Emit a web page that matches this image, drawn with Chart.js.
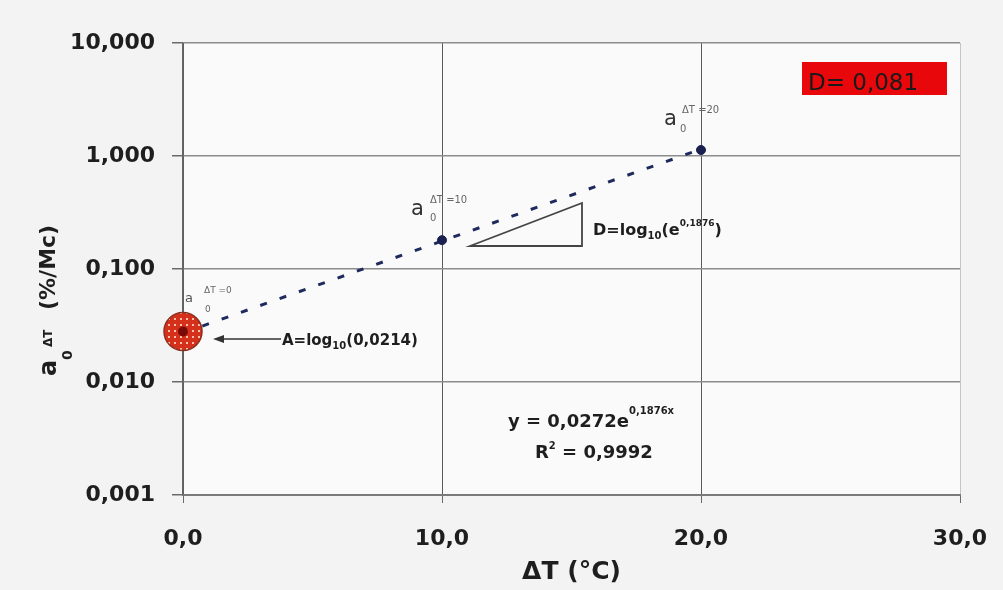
<!DOCTYPE html>
<html><head><meta charset="utf-8">
<script src="https://cdn.jsdelivr.net/npm/chart.js@4.4.1/dist/chart.umd.min.js"></script>
<style>html,body{margin:0;padding:0;background:#f3f3f3;}#wrap{width:1003px;height:590px;}</style>
</head><body><div id="wrap"><canvas id="c" width="1003" height="590"></canvas></div>
<script>
// ---- data ----
const deltaT = [0, 10, 20];
const a0Values = [0.028, 0.18, 1.13];
const trendDeltaT = [0, 20];
const trendValues = [0.0272, 1.15];
const xTickValues = [0, 10, 20, 30];
const yTickValues = [0.001, 0.01, 0.1, 1, 10];
const xTitle = 'ΔT (°C)';
const yTitleUnit = '(%/Mc)';
const pointLabels = ['ΔT =0', 'ΔT =10', 'ΔT =20'];
const equationMain = 'y = 0,0272e';
const equationExp = '0,1876x';
const r2Value = ' = 0,9992';
const interceptLabel = ['A=log', '10', '(0,0214)'];
const slopeLabel = ['D=log', '10', '(e', '0,1876', ')'];
const dBoxText = 'D= 0,081';

const FONT = '"DejaVu Sans", sans-serif';
const TXT = '#1e1e1e';

const canvas = document.getElementById('c');
const mainCtx = canvas.getContext('2d');
const pc = document.createElement('canvas'); pc.width = 6; pc.height = 6;
const pg = pc.getContext('2d');
pg.fillStyle = '#d4301c'; pg.fillRect(0, 0, 6, 6);
pg.fillStyle = '#f6c2a8'; pg.fillRect(0, 0, 2, 2);
const hatch = mainCtx.createPattern(pc, 'repeat');

function rich(ctx, x, y, parts) {
  let cx = x;
  for (const p of parts) {
    ctx.font = (p.w || 'bold') + ' ' + p.s + 'px ' + FONT;
    ctx.fillStyle = p.c || TXT;
    ctx.fillText(p.t, cx, y + (p.dy || 0));
    cx += ctx.measureText(p.t).width;
  }
}

const bgPlugin = {
  id: 'bg',
  beforeDraw(chart) {
    const ctx = chart.ctx, a = chart.chartArea;
    ctx.save();
    ctx.fillStyle = '#f3f3f3'; ctx.fillRect(0, 0, chart.width, chart.height);
    ctx.fillStyle = '#fafafa'; ctx.fillRect(a.left, a.top, a.right - a.left, a.bottom - a.top);
    ctx.restore();
  }
};

const annPlugin = {
  id: 'ann',
  afterDatasetsDraw(chart) {
    const ctx = chart.ctx;
    ctx.save();
    ctx.textBaseline = 'alphabetic';
    ctx.textAlign = 'left';
    const m = chart.getDatasetMeta(0).data;
    ctx.beginPath(); ctx.arc(m[0].x, m[0].y, 5, 0, Math.PI * 2);
    ctx.fillStyle = '#7a0a08'; ctx.fill();

    rich(ctx, 185, 302, [{t: 'a', s: 13, w: 'normal', c: '#555'}]);
    rich(ctx, 204, 293, [{t: pointLabels[0], s: 9, w: 'normal', c: '#666'}]);
    rich(ctx, 205, 312, [{t: '0', s: 9, w: 'normal', c: '#666'}]);

    rich(ctx, 411, 215, [{t: 'a', s: 21, w: 'normal', c: '#333'}]);
    rich(ctx, 430, 203, [{t: pointLabels[1], s: 10, w: 'normal', c: '#666'}]);
    rich(ctx, 430, 221, [{t: '0', s: 10, w: 'normal', c: '#666'}]);

    rich(ctx, 664, 125, [{t: 'a', s: 21, w: 'normal', c: '#333'}]);
    rich(ctx, 682, 113, [{t: pointLabels[2], s: 10, w: 'normal', c: '#666'}]);
    rich(ctx, 680, 132, [{t: '0', s: 10, w: 'normal', c: '#666'}]);

    ctx.beginPath();
    ctx.moveTo(470, 246); ctx.lineTo(582, 203); ctx.lineTo(582, 246); ctx.closePath();
    ctx.strokeStyle = '#444'; ctx.lineWidth = 1.8; ctx.stroke();
    rich(ctx, 593, 235, [
      {t: slopeLabel[0], s: 16}, {t: slopeLabel[1], s: 10, dy: 4}, {t: slopeLabel[2], s: 16},
      {t: slopeLabel[3], s: 9, dy: -9}, {t: slopeLabel[4], s: 16}
    ]);

    ctx.beginPath(); ctx.moveTo(281, 339); ctx.lineTo(222, 339);
    ctx.strokeStyle = '#333'; ctx.lineWidth = 1.5; ctx.stroke();
    ctx.beginPath(); ctx.moveTo(213, 339); ctx.lineTo(224, 335); ctx.lineTo(224, 343); ctx.closePath();
    ctx.fillStyle = '#333'; ctx.fill();
    rich(ctx, 282, 345, [
      {t: interceptLabel[0], s: 15}, {t: interceptLabel[1], s: 10, dy: 4}, {t: interceptLabel[2], s: 15}
    ]);

    rich(ctx, 508, 427, [{t: equationMain, s: 18}, {t: equationExp, s: 10, dy: -13}]);
    rich(ctx, 535, 458, [{t: 'R', s: 18}, {t: '2', s: 10, dy: -9}, {t: r2Value, s: 18}]);

    ctx.fillStyle = '#e8080c'; ctx.fillRect(802, 62, 145, 33);
    rich(ctx, 808, 90, [{t: dBoxText, s: 23, w: 'normal', c: '#1a1a1a'}]);

    ctx.translate(56, 376); ctx.rotate(-Math.PI / 2);
    rich(ctx, 0, 0, [{t: 'a', s: 24}]);
    rich(ctx, 16, 16, [{t: '0', s: 14}]);
    rich(ctx, 29, -4, [{t: 'ΔT', s: 12}]);
    rich(ctx, 66, -1, [{t: yTitleUnit, s: 22}]);
    ctx.restore();
  }
};

new Chart(canvas, {
  type: 'scatter',
  data: {
    datasets: [
      {
        data: deltaT.map((x, i) => ({x, y: a0Values[i]})),
        showLine: false,
        clip: false,
        pointRadius: [19, 4.5, 4.5],
        pointBackgroundColor: [hatch, '#1a2050', '#1a2050'],
        pointBorderColor: ['#8a3020', '#1a2050', '#1a2050'],
        pointBorderWidth: [1.5, 1, 1]
      },
      {
        data: trendDeltaT.map((x, i) => ({x, y: trendValues[i]})),
        showLine: true,
        borderColor: '#1f2a5c',
        borderWidth: 3,
        borderDash: [7, 13.5],
        pointRadius: 0,
        fill: false
      }
    ]
  },
  options: {
    responsive: false,
    animation: false,
    events: [],
    layout: {padding: {left: 0, right: 43, top: 43, bottom: 0}},
    plugins: {legend: {display: false}, tooltip: {enabled: false}},
    scales: {
      x: {
        type: 'linear', min: 0, max: 30,
        afterBuildTicks: s => { s.ticks = xTickValues.map(v => ({value: v})); },
        afterFit: s => { s.height = 95; s.paddingLeft = 0; s.paddingRight = 0; },
        ticks: {
          callback: v => Number(v).toFixed(1).replace('.', ','),
          font: {family: FONT, size: 22, weight: 'bold'}, color: TXT,
          padding: 23, maxRotation: 0, autoSkip: false
        },
        grid: {
          color: c => (c.tick && c.tick.value === 30) ? '#c4c4c4' : '#5a5a5a',
          lineWidth: 1, tickLength: 8, tickColor: '#6a6a6a'
        },
        border: {color: '#7a7a7a', width: 2},
        title: {
          display: true, text: xTitle, color: TXT,
          font: {family: FONT, size: 25, weight: 'bold'},
          padding: {top: 0, bottom: 3}
        }
      },
      y: {
        type: 'logarithmic', min: 0.001, max: 10,
        afterBuildTicks: s => { s.ticks = yTickValues.map(v => ({value: v})); },
        afterFit: s => { s.width = 183; s.paddingTop = 0; s.paddingBottom = 0; },
        ticks: {
          callback: v => Number(v).toFixed(3).replace('.', ','),
          font: {family: FONT, size: 22, weight: 'bold'}, color: TXT,
          padding: 17, autoSkip: false
        },
        grid: {color: '#8c8c8c', lineWidth: 1.5, tickLength: 11, tickColor: '#6a6a6a'},
        border: {color: '#666', width: 1.5}
      }
    }
  },
  plugins: [bgPlugin, annPlugin]
});
</script>
</body></html>
